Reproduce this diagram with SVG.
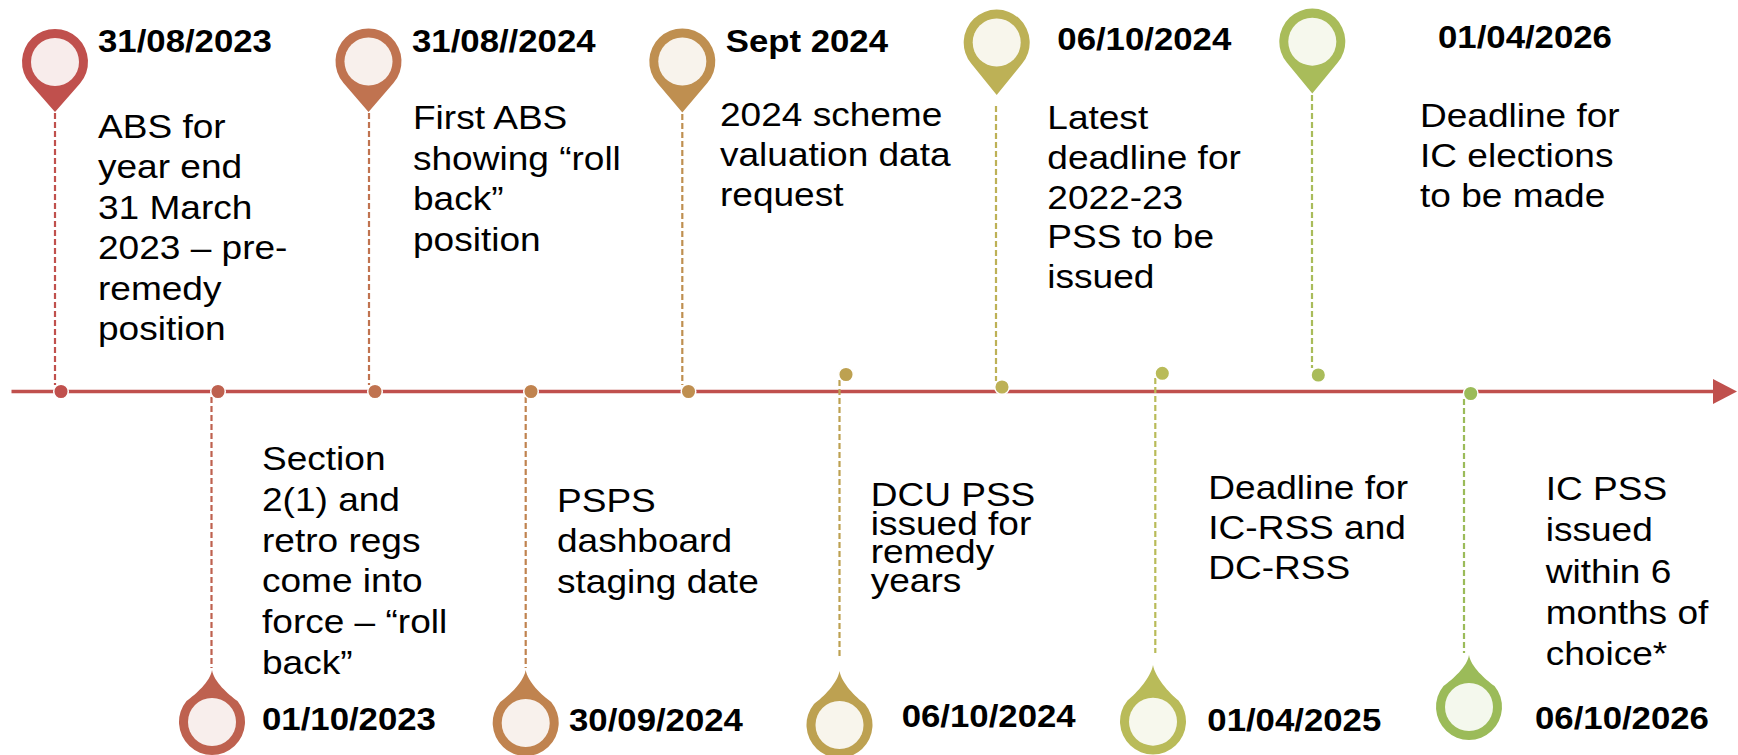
<svg xmlns="http://www.w3.org/2000/svg" width="1738" height="755" viewBox="0 0 1738 755">
<style>
.pin{fill:currentColor}
.inbg{fill:#fff}
.in{fill:currentColor;fill-opacity:.11}
.dot{fill:currentColor;stroke:#fff;stroke-width:1.5}
.conn{fill:none;stroke-width:2.2;stroke-dasharray:6 3}
.b{font-family:"Liberation Sans",Arial,sans-serif;font-size:32.5px;fill:#000}
.d{font-family:"Liberation Sans",Arial,sans-serif;font-size:30.5px;font-weight:bold;fill:#000}
</style>
<rect width="1738" height="755" fill="#fff"/>
<g id="timeline">
<line x1="11.5" y1="391.5" x2="1716" y2="391.5" stroke="#C0504D" stroke-width="3.6"/>
<polygon points="1713,379 1737,391.5 1713,404" fill="#C0504D"/>
</g>
<g id="connectors">
<line class="conn" x1="55" y1="113" x2="55" y2="385" stroke="#C0504D"/>
<line class="conn" x1="211.5" y1="397" x2="211.5" y2="668" stroke="#BE614F"/>
<line class="conn" x1="369" y1="113" x2="369" y2="385" stroke="#C07350"/>
<line class="conn" x1="525.7" y1="397" x2="525.7" y2="668" stroke="#C0834F"/>
<line class="conn" x1="682.3" y1="114" x2="682.3" y2="385" stroke="#BF8F50"/>
<line class="conn" x1="839.5" y1="380" x2="839.5" y2="656" stroke="#BDA151"/>
<line class="conn" x1="996" y1="106" x2="996" y2="381" stroke="#BDB156"/>
<line class="conn" x1="1155.3" y1="378" x2="1155.3" y2="653" stroke="#B9BB59"/>
<line class="conn" x1="1312" y1="95" x2="1312" y2="368" stroke="#A9BC5A"/>
<line class="conn" x1="1464" y1="399" x2="1464" y2="653" stroke="#9BBB59"/>
</g>
<g id="e1" style="color:#C0504D">
<path class="pin" d="M55,112 L30,83.5 A33,33 0 1 1 80,83.5 Z"/>
<circle class="inbg" cx="55" cy="62" r="24"/><circle class="in" cx="55" cy="62" r="24"/>
<circle class="dot" cx="61" cy="391.5" r="7.3"/>
<text class="d" transform="translate(98 0) scale(1.14 1)" x="0" y="51.7">31/08/2023</text>
<text class="b" transform="translate(98 0) scale(1.14 1)"><tspan x="0" y="138">ABS for</tspan><tspan x="0" y="178.5">year end</tspan><tspan x="0" y="219">31 March</tspan><tspan x="0" y="259.5">2023 – pre-</tspan><tspan x="0" y="300">remedy</tspan><tspan x="0" y="340.5">position</tspan></text>
</g>
<g id="e2" style="color:#BE614F">
<path class="pin" d="M212,670 C210,682 196,694 186.5,701 A33,33 0 1 0 237.5,701 C228,694 214,682 212,670 Z"/>
<circle class="inbg" cx="212" cy="722" r="24"/><circle class="in" cx="212" cy="722" r="24"/>
<circle class="dot" cx="218" cy="391.5" r="7.3"/>
<text class="b" transform="translate(262 0) scale(1.14 1)"><tspan x="0" y="470">Section</tspan><tspan x="0" y="511">2(1) and</tspan><tspan x="0" y="552">retro regs</tspan><tspan x="0" y="592">come into</tspan><tspan x="0" y="633">force – “roll</tspan><tspan x="0" y="674">back”</tspan></text>
<text class="d" transform="translate(262 0) scale(1.14 1)" x="0" y="730">01/10/2023</text>
</g>
<g id="e3" style="color:#C07350">
<path class="pin" d="M368.5,112 L343.5,83 A33,33 0 1 1 393.5,83 Z"/>
<circle class="inbg" cx="368.5" cy="61.5" r="24"/><circle class="in" cx="368.5" cy="61.5" r="24"/>
<circle class="dot" cx="375" cy="391.5" r="7.3"/>
<text class="d" transform="translate(412 0) scale(1.14 1)" x="0" y="51.7">31/08//2024</text>
<text class="b" transform="translate(413 0) scale(1.14 1)"><tspan x="0" y="129.3">First ABS</tspan><tspan x="0" y="169.8">showing “roll</tspan><tspan x="0" y="210.3">back”</tspan><tspan x="0" y="250.8">position</tspan></text>
</g>
<g id="e4" style="color:#C0834F">
<path class="pin" d="M525.7,670 C523.7,682 509.7,695 500.2,702 A33,33 0 1 0 551.2,702 C541.7,695 527.7,682 525.7,670 Z"/>
<circle class="inbg" cx="525.7" cy="723" r="24"/><circle class="in" cx="525.7" cy="723" r="24"/>
<circle class="dot" cx="531" cy="391.5" r="7.3"/>
<text class="b" transform="translate(557 0) scale(1.14 1)"><tspan x="0" y="511.7">PSPS</tspan><tspan x="0" y="552.2">dashboard</tspan><tspan x="0" y="592.7">staging date</tspan></text>
<text class="d" transform="translate(569 0) scale(1.14 1)" x="0" y="730.7">30/09/2024</text>
</g>
<g id="e5" style="color:#BF8F50">
<path class="pin" d="M682.3,112.5 L657.3,83 A33,33 0 1 1 707.3,83 Z"/>
<circle class="inbg" cx="682.3" cy="61.5" r="24"/><circle class="in" cx="682.3" cy="61.5" r="24"/>
<circle class="dot" cx="688.5" cy="391.5" r="7.3"/>
<text class="d" transform="translate(725.7 0) scale(1.14 1)" x="0" y="51.7">Sept 2024</text>
<text class="b" transform="translate(720 0) scale(1.14 1)"><tspan x="0" y="126">2024 scheme</tspan><tspan x="0" y="166">valuation data</tspan><tspan x="0" y="206">request</tspan></text>
</g>
<g id="e6" style="color:#BDA151">
<path class="pin" d="M839.5,671 C837.5,683 823.5,697 814,704 A33,33 0 1 0 865,704 C855.5,697 841.5,683 839.5,671 Z"/>
<circle class="inbg" cx="839.5" cy="725" r="24"/><circle class="in" cx="839.5" cy="725" r="24"/>
<circle class="dot" cx="846" cy="374.5" r="7.3"/>
<text class="b" transform="translate(870.7 0) scale(1.14 1)"><tspan x="0" y="505.7">DCU PSS</tspan><tspan x="0" y="535">issued for</tspan><tspan x="0" y="563.3">remedy</tspan><tspan x="0" y="591.7">years</tspan></text>
<text class="d" transform="translate(901.7 0) scale(1.14 1)" x="0" y="726.7">06/10/2024</text>
</g>
<g id="e7" style="color:#BDB156">
<path class="pin" d="M996.7,95 L971.4,63.8 A33,33 0 1 1 1022,63.8 Z"/>
<circle class="inbg" cx="996.7" cy="42.5" r="24"/><circle class="in" cx="996.7" cy="42.5" r="24"/>
<circle class="dot" cx="1002" cy="387" r="7.3"/>
<text class="d" transform="translate(1057.3 0) scale(1.14 1)" x="0" y="50">06/10/2024</text>
<text class="b" transform="translate(1047.3 0) scale(1.14 1)"><tspan x="0" y="129.3">Latest</tspan><tspan x="0" y="169">deadline for</tspan><tspan x="0" y="208.7">2022-23</tspan><tspan x="0" y="248.4">PSS to be</tspan><tspan x="0" y="288">issued</tspan></text>
</g>
<g id="e8" style="color:#B9BB59">
<path class="pin" d="M1153,665 C1151,677 1137,693 1127.5,700.5 A33,33 0 1 0 1178.5,700.5 C1169,693 1155,677 1153,665 Z"/>
<circle class="inbg" cx="1153" cy="721.7" r="24"/><circle class="in" cx="1153" cy="721.7" r="24"/>
<circle class="dot" cx="1162.3" cy="373.3" r="7.3"/>
<text class="b" transform="translate(1208.3 0) scale(1.14 1)"><tspan x="0" y="499.3">Deadline for</tspan><tspan x="0" y="539.3">IC-RSS and</tspan><tspan x="0" y="578.8">DC-RSS</tspan></text>
<text class="d" transform="translate(1207.3 0) scale(1.14 1)" x="0" y="730.7">01/04/2025</text>
</g>
<g id="e9" style="color:#A9BC5A">
<path class="pin" d="M1312.3,93.5 L1287,62.8 A33,33 0 1 1 1337.6,62.8 Z"/>
<circle class="inbg" cx="1312.3" cy="41.7" r="24"/><circle class="in" cx="1312.3" cy="41.7" r="24"/>
<circle class="dot" cx="1318.3" cy="375" r="7.3"/>
<text class="d" transform="translate(1438 0) scale(1.14 1)" x="0" y="48.3">01/04/2026</text>
<text class="b" transform="translate(1420 0) scale(1.14 1)"><tspan x="0" y="126.7">Deadline for</tspan><tspan x="0" y="166.7">IC elections</tspan><tspan x="0" y="206.7">to be made</tspan></text>
</g>
<g id="e10" style="color:#9BBB59">
<path class="pin" d="M1469,655 C1467,667 1453,679 1443.5,686 A33,33 0 1 0 1494.5,686 C1485,679 1471,667 1469,655 Z"/>
<circle class="inbg" cx="1469" cy="707" r="24"/><circle class="in" cx="1469" cy="707" r="24"/>
<circle class="dot" cx="1470.7" cy="393.5" r="7.3"/>
<text class="b" transform="translate(1545.7 0) scale(1.14 1)"><tspan x="0" y="500">IC PSS</tspan><tspan x="0" y="541.5">issued</tspan><tspan x="0" y="583">within 6</tspan><tspan x="0" y="624">months of</tspan><tspan x="0" y="665">choice*</tspan></text>
<text class="d" transform="translate(1535 0) scale(1.14 1)" x="0" y="729.3">06/10/2026</text>
</g>
</svg>
